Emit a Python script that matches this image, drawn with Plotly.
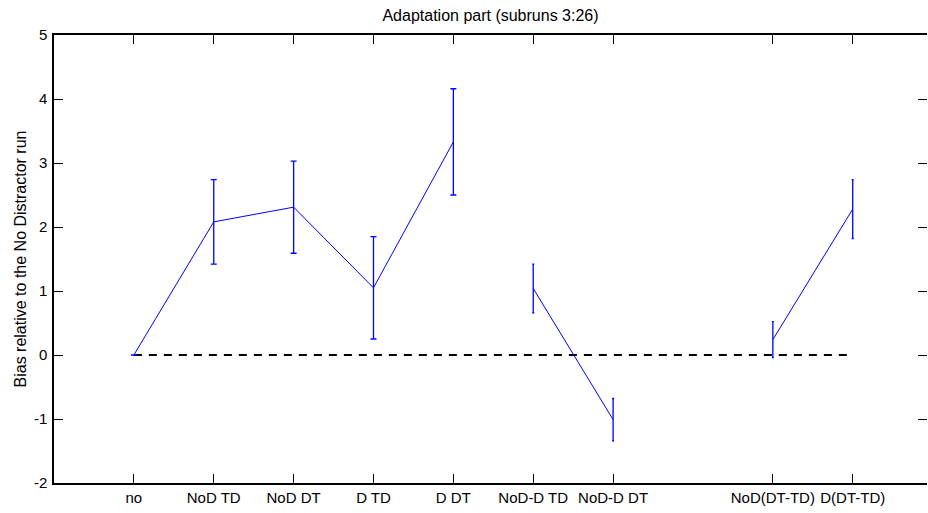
import plotly.graph_objects as go

# Conditions on the x axis (position 8 is left empty as a separator)
tick_positions = [1, 2, 3, 4, 5, 6, 7, 9, 10]
tick_labels = ["no", "NoD TD", "NoD DT", "D TD", "D DT",
               "NoD-D TD", "NoD-D DT", "NoD(DT-TD)", "D(DT-TD)"]

# y ticks, written with a plain hyphen for the negatives
y_ticks = [-2, -1, 0, 1, 2, 3, 4, 5]
y_tick_labels = ["-2", "-1", "0", "1", "2", "3", "4", "5"]

# Series 1: single conditions
cond_x = [1, 2, 3, 4, 5]
cond_bias = [0.0, 2.08, 2.31, 1.05, 3.33]
cond_err = [0.0, 0.66, 0.72, 0.80, 0.83]

# Series 2: NoD - D differences
diff_x = [6, 7]
diff_bias = [1.04, -1.01]
diff_err = [0.38, 0.33]

# Series 3: DT - TD differences
dt_x = [9, 10]
dt_bias = [0.24, 2.28]
dt_err = [0.28, 0.46]

# Zero reference line
zero_x = [1, 10]
zero_y = [0, 0]

BLUE = "#0000FF"
FONT = "Liberation Sans, Arial, sans-serif"

fig = go.Figure()

fig.add_trace(go.Scatter(
    x=zero_x, y=zero_y, mode="lines",
    line=dict(color="black", width=2, dash="8px,7px"),
    hoverinfo="skip"))

for xs, ys, es, cap in [(cond_x, cond_bias, cond_err, 3),
                        (diff_x, diff_bias, diff_err, 1),
                        (dt_x, dt_bias, dt_err, 1)]:
    fig.add_trace(go.Scatter(
        x=xs, y=ys, mode="lines",
        line=dict(color=BLUE, width=1),
        error_y=dict(type="data", array=es, visible=True,
                     color=BLUE, thickness=1.3, width=cap)))

tick_font = dict(family=FONT, size=15, color="black")
label_font = dict(family=FONT, size=16, color="black")

fig.update_layout(
    width=928, height=513,
    margin=dict(l=54, r=1, t=35, b=30),
    paper_bgcolor="white", plot_bgcolor="white",
    showlegend=False,
    font=dict(family=FONT, size=15, color="black"),
    title=dict(text="Adaptation part (subruns 3:26)", x=0.5, xref="paper",
               y=1 - 15 / 513, yanchor="middle", font=label_font),
    xaxis=dict(range=[0, 10.93], tickmode="array", tickvals=tick_positions,
               ticktext=tick_labels, ticks="inside", ticklen=9, tickwidth=1,
               tickcolor="black", showline=True, linecolor="black",
               linewidth=1.5, showgrid=False, zeroline=False,
               tickfont=tick_font),
    xaxis2=dict(range=[0, 10.93], overlaying="x", side="top",
                tickmode="array", tickvals=tick_positions, ticks="inside",
                ticklen=9, tickwidth=1, tickcolor="black",
                showticklabels=False, showline=True, linecolor="black",
                linewidth=1.5, showgrid=False, zeroline=False),
    yaxis=dict(range=[-2, 5], tickmode="array", tickvals=y_ticks,
               ticktext=y_tick_labels,
               ticks="inside", ticklen=9, tickwidth=1, tickcolor="black",
               showline=True, linecolor="black", linewidth=1.5,
               showgrid=False, zeroline=False, tickfont=tick_font,
               ticklabelstandoff=2,
               title=dict(text="Bias relative to the No Distractor run",
                          font=label_font, standoff=3)),
    yaxis2=dict(range=[-2, 5], overlaying="y", side="right",
                tickmode="array", tickvals=y_ticks,
                ticks="inside", ticklen=9, tickwidth=1, tickcolor="black",
                showticklabels=False, showline=False,
                showgrid=False, zeroline=False),
)

# Invisible trace so the top/right axes are drawn
fig.add_trace(go.Scatter(x=[None], y=[None], xaxis="x2", yaxis="y2",
                         showlegend=False, hoverinfo="skip"))

fig.write_html("out.html")
